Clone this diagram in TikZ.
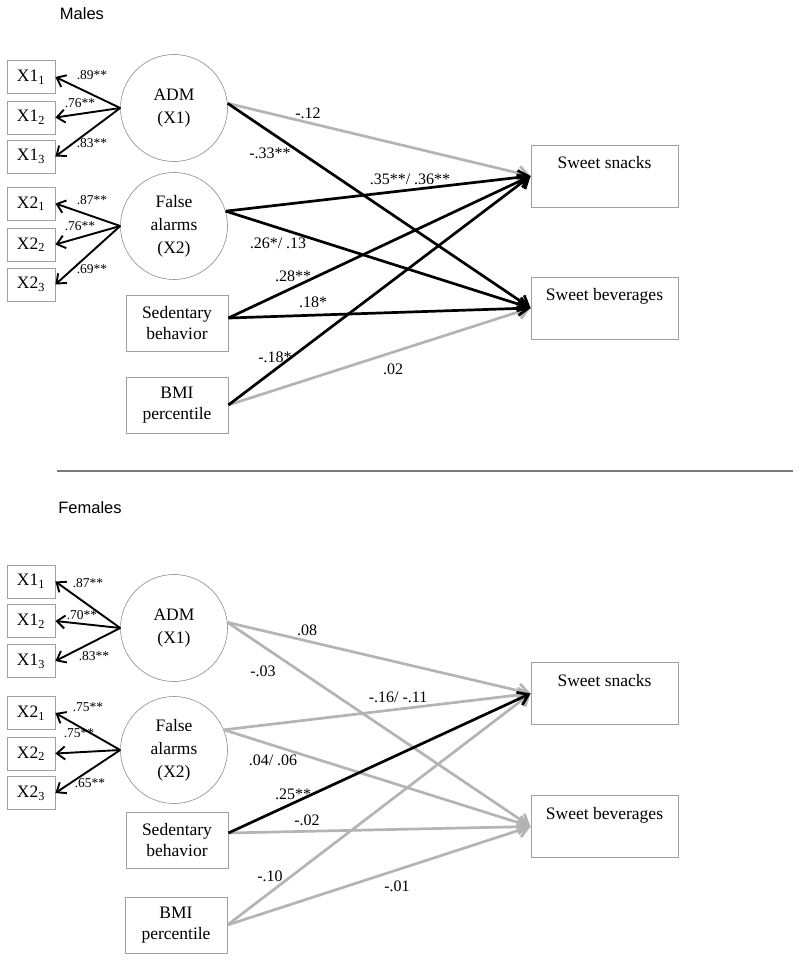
\documentclass[tikz,border=0pt]{standalone}
\usepackage{fontspec}
\setmainfont{Liberation Serif}
\newfontfamily\arialfont{Liberation Sans}
\usetikzlibrary{arrows.meta}
\definecolor{lgray}{HTML}{B4B4B4}
\definecolor{bgray}{HTML}{A0A0A0}
\definecolor{cgray}{HTML}{8C8C8C}
\definecolor{dgray}{HTML}{7A7A7A}
\begin{document}
\begin{tikzpicture}[x=1pt,y=-1pt,
  ind/.style={draw=bgray, line width=0.8pt, minimum width=48pt, minimum height=33pt, inner sep=0pt, font=\fontsize{17.5}{20}\selectfont},
  lat/.style={draw=cgray, line width=0.6pt, circle, minimum size=107pt, inner sep=0pt, align=center, font=\fontsize{17.5}{23}\selectfont},
  obs/.style={draw=bgray, line width=0.8pt, minimum width=102pt, minimum height=56pt, inner sep=0pt, align=center, font=\fontsize{17.5}{21}\selectfont},
  dv/.style={draw=bgray, line width=0.8pt, minimum width=147pt, inner xsep=0pt, inner ysep=6pt, text height=17.6pt, text depth=32.4pt, font=\fontsize{17.5}{20}\selectfont},
  loadlbl/.style={font=\fontsize{13.5}{15}\selectfont, inner sep=0pt},
  coef/.style={font=\fontsize{16}{18}\selectfont, inner sep=0pt},
  title/.style={font=\arialfont\fontsize{16.5}{19}\selectfont, inner sep=0pt},
  ldarrow/.style={-{Straight Barb[length=8pt,width=13pt]}, line width=1.9pt, black},
  sig/.style={-{Straight Barb[length=10pt,width=14pt]}, line width=2.7pt, draw=black},
  nsig/.style={-{Straight Barb[length=10pt,width=14pt]}, line width=2.7pt, draw=lgray}
]
\useasboundingbox (0,0) rectangle (800,961);

% ================= MALES =================
\node[title] (tm) at (82,14) {Males};

\node[ind] (x11) at (31,77) {X1\textsubscript{1}};
\node[ind] (x12) at (31,117.5) {X1\textsubscript{2}};
\node[ind] (x13) at (31,156.5) {X1\textsubscript{3}};
\node[ind] (x21) at (31,203.5) {X2\textsubscript{1}};
\node[ind] (x22) at (31,244.5) {X2\textsubscript{2}};
\node[ind] (x23) at (31,284.5) {X2\textsubscript{3}};

\node[lat] (adm) at (174,108) {ADM\\(X1)};
\node[lat] (fa) at (174,226) {False\\alarms\\(X2)};
\node[obs] (sed) at (177,323) {Sedentary\\behavior};
\node[obs] (bmi) at (177,405) {BMI\\percentile};
\node[dv] (snk) at (604.5,176) {Sweet snacks};
\node[dv] (bev) at (604.5,308) {Sweet beverages};

\draw[ldarrow] (adm.west) -- (x11.east);
\draw[ldarrow] (adm.west) -- (x12.east);
\draw[ldarrow] (adm.west) -- (x13.east);
\draw[ldarrow] (fa.west) -- (x21.east);
\draw[ldarrow] (fa.west) -- (x22.east);
\draw[ldarrow] (fa.west) -- (x23.east);

\node[loadlbl] (m1) at (92,75) {.89**};
\node[loadlbl] (m2) at (80,103) {.76**};
\node[loadlbl] (m3) at (92,143) {.83**};
\node[loadlbl] (m4) at (92,200) {.87**};
\node[loadlbl] (m5) at (80,226) {.76**};
\node[loadlbl] (m6) at (92,269) {.69**};

\draw[nsig] (adm.5) -- (snk.west);
\draw[nsig] (bmi.east) -- (bev.west);
\draw[sig] (adm.5) -- (bev.west);
\draw[sig] (fa.16) -- (snk.west);
\draw[sig] (fa.16) -- (bev.west);
\draw[sig] ([yshift=5pt]sed.east) -- (snk.west);
\draw[sig] ([yshift=5pt]sed.east) -- (bev.west);
\draw[sig] (bmi.east) -- (snk.west);

\node[coef] (c1) at (308,113) {-.12};
\node[coef] (c2) at (270,153) {-.33**};
\node[coef] (c3) at (410,179) {.35**/ .36**};
\node[coef] (c4) at (278,243) {.26*/ .13};
\node[coef] (c5) at (293,276) {.28**};
\node[coef] (c6) at (313,302) {.18*};
\node[coef] (c7) at (275,357) {-.18*};
\node[coef] (c8) at (393,369) {.02};

% divider
\draw[dgray, line width=1.3pt] (57,471) -- (793,471);

% ================= FEMALES =================
\node[title] (tf) at (90,508) {Females};

\node[ind] (fx11) at (31,581.5) {X1\textsubscript{1}};
\node[ind] (fx12) at (31,621) {X1\textsubscript{2}};
\node[ind] (fx13) at (31,661) {X1\textsubscript{3}};
\node[ind] (fx21) at (31,713) {X2\textsubscript{1}};
\node[ind] (fx22) at (31,753.5) {X2\textsubscript{2}};
\node[ind] (fx23) at (31,793) {X2\textsubscript{3}};

\node[lat] (fadm) at (174,628) {ADM\\(X1)};
\node[lat] (ffa) at (174,750) {False\\alarms\\(X2)};
\node[obs] (fsed) at (177,840) {Sedentary\\behavior};
\node[obs] (fbmi) at (176,925) {BMI\\percentile};
\node[dv] (fsnk) at (604.5,693.5) {Sweet snacks};
\node[dv] (fbev) at (604.5,826.5) {Sweet beverages};

\draw[ldarrow] (fadm.west) -- (fx11.east);
\draw[ldarrow] (fadm.west) -- (fx12.east);
\draw[ldarrow] (fadm.west) -- (fx13.east);
\draw[ldarrow] (ffa.west) -- (fx21.east);
\draw[ldarrow] (ffa.west) -- (fx22.east);
\draw[ldarrow] (ffa.west) -- (fx23.east);

\node[loadlbl] (f1) at (88,583) {.87**};
\node[loadlbl] (f2) at (82,615) {.70**};
\node[loadlbl] (f3) at (94,656) {.83**};
\node[loadlbl] (f4) at (88,707) {.75**};
\node[loadlbl] (f5) at (79,733) {.75**};
\node[loadlbl] (f6) at (90,783) {.65**};

\draw[nsig] (fadm.6) -- (fsnk.west);
\draw[nsig] (fadm.6) -- (fbev.west);
\draw[nsig] (ffa.22) -- (fsnk.west);
\draw[nsig] (ffa.22) -- (fbev.west);
\draw[nsig] ([yshift=7pt]fsed.east) -- (fbev.west);
\draw[nsig] (fbmi.east) -- (fsnk.west);
\draw[nsig] (fbmi.east) -- (fbev.west);
\draw[sig] ([yshift=7pt]fsed.east) -- (fsnk.west);

\node[coef] (g1) at (307,630) {.08};
\node[coef] (g2) at (263,671) {-.03};
\node[coef] (g3) at (398,697) {-.16/ -.11};
\node[coef] (g4) at (273,760) {.04/ .06};
\node[coef] (g5) at (293,794) {.25**};
\node[coef] (g6) at (307,820) {-.02};
\node[coef] (g7) at (270,876) {-.10};
\node[coef] (g8) at (397,886) {-.01};
\end{tikzpicture}
\end{document}
